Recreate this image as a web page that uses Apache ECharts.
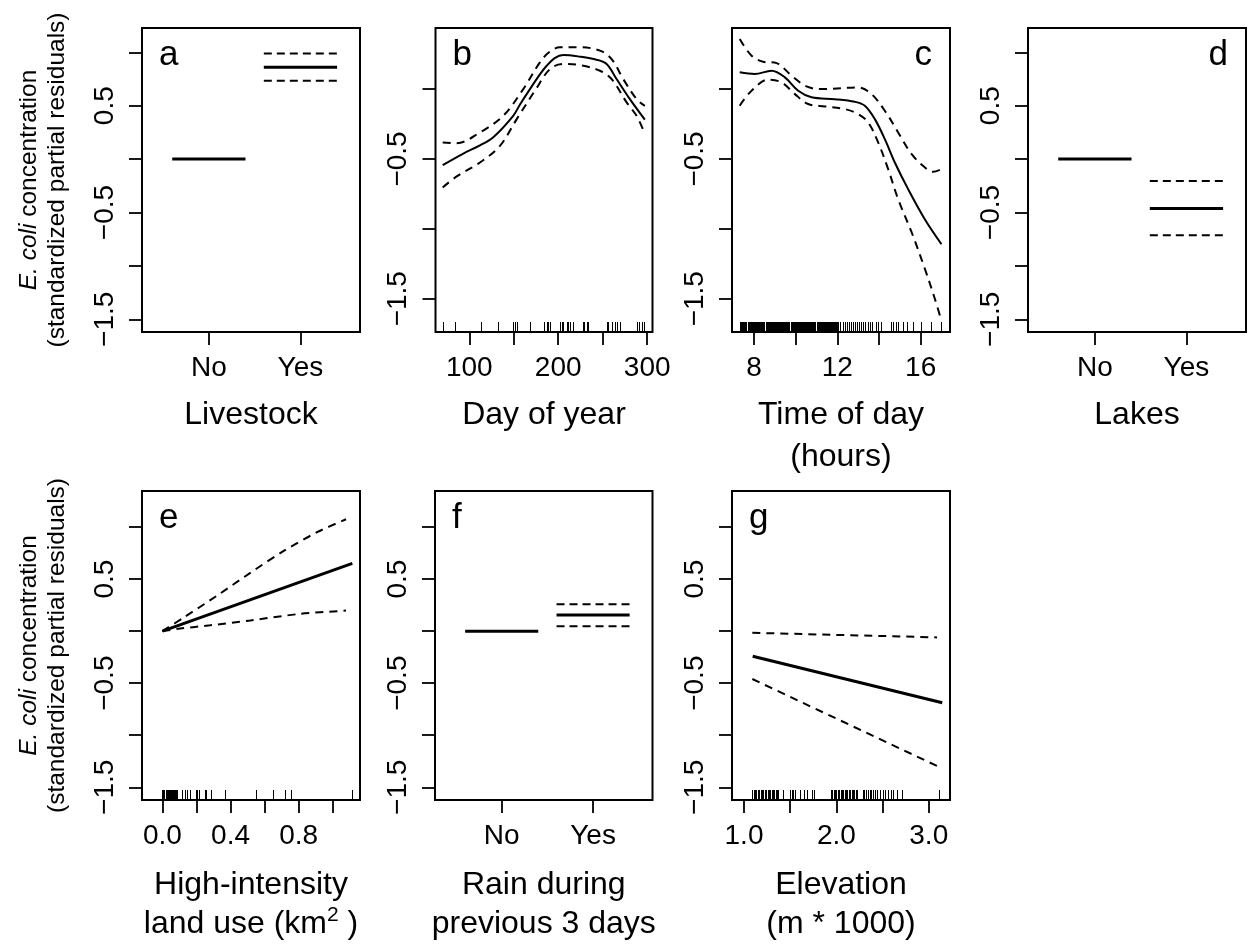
<!DOCTYPE html>
<html><head><meta charset="utf-8">
<script src="https://cdn.jsdelivr.net/npm/echarts@6/dist/echarts.min.js"></script>
<style>html,body{margin:0;padding:0;background:#fff}#c{width:1248px;height:945px}</style>
</head><body><div id="c"></div>
<script>
// ---------------- data ----------------
const factorLevels = ['No', 'Yes'];
const factorTicks = [1, 2];

const livestockFit = [0.0, 0.86];
const livestockUpper = [null, 0.99];
const livestockLower = [null, 0.735];

const lakesFit = [0.0, -0.462];
const lakesUpper = [null, -0.206];
const lakesLower = [null, -0.712];

const rainFit = [0.0, 0.156];
const rainUpper = [null, 0.259];
const rainLower = [null, 0.047];

const dayFit = [[70.1,-0.544],[93.3,-0.461],[112,-0.403],[127,-0.344],[149.4,-0.191],[157,-0.11],[168.2,0],[179.4,0.105],[187,0.167],[196,0.222],[205.6,0.244],[224.4,0.232],[243.1,0.21],[254.4,0.179],[265.6,0.072],[280.6,-0.072],[297.4,-0.219]];
const dayUpper = [[70.1,-0.382],[85.8,-0.387],[112,-0.31],[138.2,-0.191],[160.7,0],[179.4,0.191],[190,0.265],[201.9,0.299],[224.4,0.299],[246.9,0.275],[260,0.215],[273.1,0.072],[288.1,-0.072],[297.4,-0.12]];
const dayLower = [[70.1,-0.704],[85.8,-0.625],[112,-0.525],[134.5,-0.406],[153.3,-0.215],[175,0],[190.7,0.143],[205.6,0.179],[224.4,0.172],[246.9,0.131],[260,0.072],[276.9,-0.095],[288.1,-0.191],[297.4,-0.322]];
const dayRug = [70.8,83.9,112.8,132.6,148.8,151.4,153.3,168.2,184,187,188.8,190.7,201.9,203.8,205.6,209.4,211.2,213.1,216.1,227.4,229.2,231.9,233.7,254.4,256.2,260,263.7,265.6,269.3,288.1,291,293.7,296.3];

const hourFit = [[7.31,0.12],[8.03,0.108],[8.84,0.131],[9.48,0.084],[10.12,-0.012],[10.76,-0.059],[11.88,-0.072],[12.84,-0.091],[13.32,-0.119],[13.8,-0.215],[14.28,-0.358],[14.76,-0.525],[15.4,-0.716],[16.2,-0.931],[17.0,-1.11]];
const hourUpper = [[7.31,0.358],[7.88,0.239],[8.43,0.196],[9.08,0.186],[9.8,0.096],[10.52,0.019],[11.24,0.0],[13.0,0.012],[13.64,-0.036],[14.28,-0.155],[14.92,-0.31],[15.57,-0.466],[16.21,-0.561],[16.6,-0.592],[17.0,-0.573]];
const hourLower = [[7.31,-0.119],[7.88,-0.012],[8.67,0.067],[9.32,0.048],[9.96,-0.036],[10.6,-0.107],[11.4,-0.124],[12.36,-0.143],[13.0,-0.179],[13.48,-0.239],[13.96,-0.382],[14.44,-0.573],[14.92,-0.788],[15.57,-1.026],[16.21,-1.289],[16.69,-1.504],[16.98,-1.648]];
const hourRug = [7.33,7.38,7.42,7.47,7.52,7.58,7.63,7.7,7.74,7.8,7.86,7.9,7.95,
  8.0,8.05,8.1,8.15,8.2,8.25,8.3,8.35,8.4,8.45,8.5,8.55,8.6,8.65,8.7,8.75,8.8,8.85,8.9,8.95,
  9.0,9.05,9.1,9.15,9.2,9.25,9.3,9.35,9.4,9.45,9.5,9.55,9.6,9.65,9.7,9.75,9.8,9.85,9.9,9.95,
  10.0,10.05,10.1,10.15,10.2,10.25,10.3,10.35,10.4,10.45,10.5,10.55,10.6,10.65,10.7,10.75,10.8,10.85,10.9,10.95,
  11.0,11.05,11.1,11.15,11.2,11.25,11.3,11.35,11.4,11.45,11.5,11.55,11.6,11.65,11.7,11.75,11.8,11.85,11.9,11.95,12.0,12.05,
  12.15,12.25,12.35,12.45,12.55,12.65,12.75,12.85,12.95,13.05,13.15,13.25,13.35,13.45,13.55,13.65,
  13.85,13.96,14.12,14.6,14.68,14.8,14.92,15.16,15.35,15.64,16.04,16.52,17.0];

const landFit = [[0.0,0.0],[1.115,0.65]];
const landUpper = [[0.0,0.0],[0.124,0.13],[0.32,0.34],[0.516,0.56],[0.712,0.77],[0.908,0.95],[1.078,1.075]];
const landLower = [[0.0,0.0],[0.104,0.025],[0.28,0.056],[0.516,0.103],[0.81,0.166],[1.078,0.197]];
const landRug = [0,0.006,0.012,0.018,0.024,0.03,0.036,0.042,0.048,0.054,0.06,0.066,0.072,0.078,0.084,
  0.116,0.13,0.147,0.159,0.198,0.205,0.212,0.247,0.257,0.283,0.367,0.547,0.652,0.717,0.757,1.112];

const elevFit = [[1.094,-0.241],[3.146,-0.688]];
const elevUpper = [[1.09,-0.016],[3.09,-0.06]];
const elevLower = [[1.09,-0.46],[3.146,-1.319]];
const elevRug = [1.09,1.105,1.12,1.135,1.15,1.165,1.18,1.195,1.21,1.225,1.24,1.255,1.27,1.285,1.3,1.315,1.33,1.345,1.36,1.37,
  1.425,1.497,1.515,1.533,1.551,1.605,1.649,1.677,1.731,1.757,
  1.94,1.955,1.97,1.985,2.0,2.015,2.03,2.045,2.06,2.075,2.09,2.105,2.12,2.135,2.15,2.165,2.18,2.195,2.21,2.225,
  2.284,2.3,2.32,2.34,2.36,2.38,2.4,2.42,2.445,2.47,2.5,2.53,2.56,2.59,2.615,2.658,2.705,3.11];

const yTicksFull = [-1.5, -1, -0.5, 0, 0.5, 1];
const yLabelsFull = [-1.5, -0.5, 0.5];
const yTicksShort = [-1.5, -1, -0.5, 0];
const yLabelsShort = [-1.5, -0.5];
const dayTicks = [100, 150, 200, 250, 300];
const dayLabels = [100, 200, 300];
const hourTicks = [8, 10, 12, 14, 16];
const hourLabels = [8, 12, 16];
const landTicks = [0, 0.2, 0.4, 0.6, 0.8, 1.0];
const landLabels = [0, 0.4, 0.8];
const elevTicks = [1, 1.5, 2, 2.5, 3];
const elevLabels = [1, 2, 3];

// ---------------- layout / styles ----------------
const FONT = "'Liberation Sans', Arial, Helvetica, sans-serif";
const signed = d => v => (v < 0 ? '\u2212' : '') + Math.abs(v).toFixed(d);
const factorFmt = v => factorLevels[Math.round(v) - 1];

const Y_NAME = '{i|E. coli} concentration\n(standardized partial residuals)';
const TOP_ROW = {nameGap:62, lineHeight:42};
const BOTTOM_ROW = {nameGap:66, lineHeight:39};

const panels = [
  {letter:'a', right:false, row:TOP_ROW, grid:{left:142,top:28,width:218,height:304},
   x:{min:0.27,max:2.65,ticks:factorTicks,labels:factorTicks,fmt:factorFmt}, y:{min:-1.619,max:1.228,ticks:yTicksFull,labels:yLabelsFull},
   xName:'Livestock', yName:true, factor:{fit:livestockFit,up:livestockUpper,lo:livestockLower}},
  {letter:'b', right:false, row:TOP_ROW, grid:{left:435.5,top:28,width:217,height:304},
   x:{min:62,max:306,ticks:dayTicks,labels:dayLabels,fmt:signed(0)}, y:{min:-1.738,max:0.437,ticks:yTicksShort,labels:yLabelsShort},
   xName:'Day of year', curve:{fit:dayFit,up:dayUpper,lo:dayLower,w:2,smooth:0.35}, rug:dayRug},
  {letter:'c', right:true, row:TOP_ROW, grid:{left:732,top:28,width:218,height:304},
   x:{min:6.94,max:17.41,ticks:hourTicks,labels:hourLabels,fmt:signed(0)}, y:{min:-1.738,max:0.437,ticks:yTicksShort,labels:yLabelsShort},
   xName:'Time of day\n(hours)', curve:{fit:hourFit,up:hourUpper,lo:hourLower,w:2,smooth:0.35}, rug:hourRug},
  {letter:'d', right:true, row:TOP_ROW, grid:{left:1028,top:28,width:218,height:304},
   x:{min:0.27,max:2.65,ticks:factorTicks,labels:factorTicks,fmt:factorFmt}, y:{min:-1.619,max:1.228,ticks:yTicksFull,labels:yLabelsFull},
   xName:'Lakes', factor:{fit:lakesFit,up:lakesUpper,lo:lakesLower}},
  {letter:'e', right:false, row:BOTTOM_ROW, grid:{left:142,top:491,width:218,height:316},
   x:{min:-0.12,max:1.16,ticks:landTicks,labels:landLabels,fmt:signed(1)}, y:{min:-1.622,max:1.346,ticks:yTicksFull,labels:yLabelsFull},
   xName:'High-intensity\nland use (km{s|2} )', yName:true, curve:{fit:landFit,up:landUpper,lo:landLower,w:3,smooth:0.3}, rug:landRug},
  {letter:'f', right:false, row:BOTTOM_ROW, grid:{left:435,top:491,width:217.5,height:316},
   x:{min:0.27,max:2.65,ticks:factorTicks,labels:factorTicks,fmt:factorFmt}, y:{min:-1.622,max:1.346,ticks:yTicksFull,labels:yLabelsFull},
   xName:'Rain during\nprevious 3 days', factor:{fit:rainFit,up:rainUpper,lo:rainLower}},
  {letter:'g', right:false, row:BOTTOM_ROW, grid:{left:732,top:491,width:218,height:316},
   x:{min:0.87,max:3.23,ticks:elevTicks,labels:elevLabels,fmt:signed(1)}, y:{min:-1.622,max:1.346,ticks:yTicksFull,labels:yLabelsFull},
   xName:'Elevation\n(m * 1000)', curve:{fit:elevFit,up:elevUpper,lo:elevLower,w:3,smooth:false}, rug:elevRug}
];

const grids = [], xAxes = [], yAxes = [], series = [], graphics = [];
const tickStyle = {color:'#000', width:1.8};

panels.forEach((p, i) => {
  grids.push(Object.assign({show:true, borderColor:'#000', borderWidth:2, backgroundColor:'transparent', containLabel:false}, p.grid));
  xAxes.push({
    type:'value', gridIndex:i, min:p.x.min, max:p.x.max, position:'bottom',
    axisLine:{show:false, onZero:false}, splitLine:{show:false},
    axisTick:{show:true, inside:false, length:13, lineStyle:tickStyle, customValues:p.x.ticks},
    axisLabel:{customValues:p.x.labels, formatter:p.x.fmt, fontSize:28, color:'#000', fontFamily:FONT, margin:22},
    name:p.xName, nameLocation:'middle', nameGap:p.row.nameGap,
    nameTextStyle:{fontSize:32, color:'#000', fontFamily:FONT, lineHeight:p.row.lineHeight,
      rich:{s:{fontSize:21, fontFamily:FONT, color:'#000', verticalAlign:'top', lineHeight:26}}}
  });
  yAxes.push({
    type:'value', gridIndex:i, min:p.y.min, max:p.y.max, position:'left',
    axisLine:{show:false, onZero:false}, splitLine:{show:false},
    axisTick:{show:true, inside:false, length:13, lineStyle:tickStyle, customValues:p.y.ticks},
    axisLabel:{customValues:p.y.labels, formatter:signed(1), rotate:90, fontSize:28, color:'#000', fontFamily:FONT, margin:23},
    name:p.yName ? Y_NAME : '', nameLocation:'middle', nameGap:71,
    nameTextStyle:{fontSize:24.5, color:'#000', fontFamily:FONT, lineHeight:28,
      rich:{i:{fontStyle:'italic', fontSize:24.5, fontFamily:FONT, color:'#000', lineHeight:28}}}
  });

  const base = {xAxisIndex:i, yAxisIndex:i, type:'line', showSymbol:false, symbol:'none', silent:true, animation:false};
  if (p.factor) {
    p.factor.fit.forEach((v, k) => {
      const c = k + 1;
      series.push(Object.assign({}, base, {data:[[c-0.4, v],[c+0.4, v]], lineStyle:{color:'#000', width:3}}));
      if (p.factor.up[k] != null) {
        series.push(Object.assign({}, base, {data:[[c-0.4, p.factor.up[k]],[c+0.4, p.factor.up[k]]], lineStyle:{color:'#000', width:2, type:[8,5]}}));
        series.push(Object.assign({}, base, {data:[[c-0.4, p.factor.lo[k]],[c+0.4, p.factor.lo[k]]], lineStyle:{color:'#000', width:2, type:[8,5]}}));
      }
    });
  }
  if (p.curve) {
    series.push(Object.assign({}, base, {data:p.curve.fit, smooth:p.curve.smooth, lineStyle:{color:'#000', width:p.curve.w}}));
    series.push(Object.assign({}, base, {data:p.curve.up, smooth:p.curve.smooth, lineStyle:{color:'#000', width:2, type:[8,6]}}));
    series.push(Object.assign({}, base, {data:p.curve.lo, smooth:p.curve.smooth, lineStyle:{color:'#000', width:2, type:[8,6]}}));
  }
  if (p.rug) {
    series.push({
      type:'custom', xAxisIndex:i, yAxisIndex:i, silent:true, animation:false,
      data:p.rug.map(v => [v, 0]),
      renderItem:(params, api) => {
        const pt = api.coord([api.value(0), 0]);
        const bottom = params.coordSys.y + params.coordSys.height;
        const x = Math.round(pt[0]) + 0.5;
        return {type:'line', shape:{x1:x, y1:bottom, x2:x, y2:bottom - 10}, style:{stroke:'#000', lineWidth:1}};
      }
    });
  }
  const g = p.grid;
  graphics.push({
    type:'text',
    x: p.right ? g.left + g.width - 18 : g.left + 17,
    y: g.top + 27,
    style:{text:p.letter, fontSize:35, fontFamily:FONT, fill:'#000',
      align:p.right ? 'right' : 'left', verticalAlign:'middle',
      textAlign:p.right ? 'right' : 'left', textVerticalAlign:'middle'}
  });
});

const chart = echarts.init(document.getElementById('c'), null, {renderer:'canvas'});
chart.setOption({
  animation:false,
  backgroundColor:'#fff',
  grid:grids, xAxis:xAxes, yAxis:yAxes, series:series,
  graphic:{elements:graphics}
});
</script></body></html>
